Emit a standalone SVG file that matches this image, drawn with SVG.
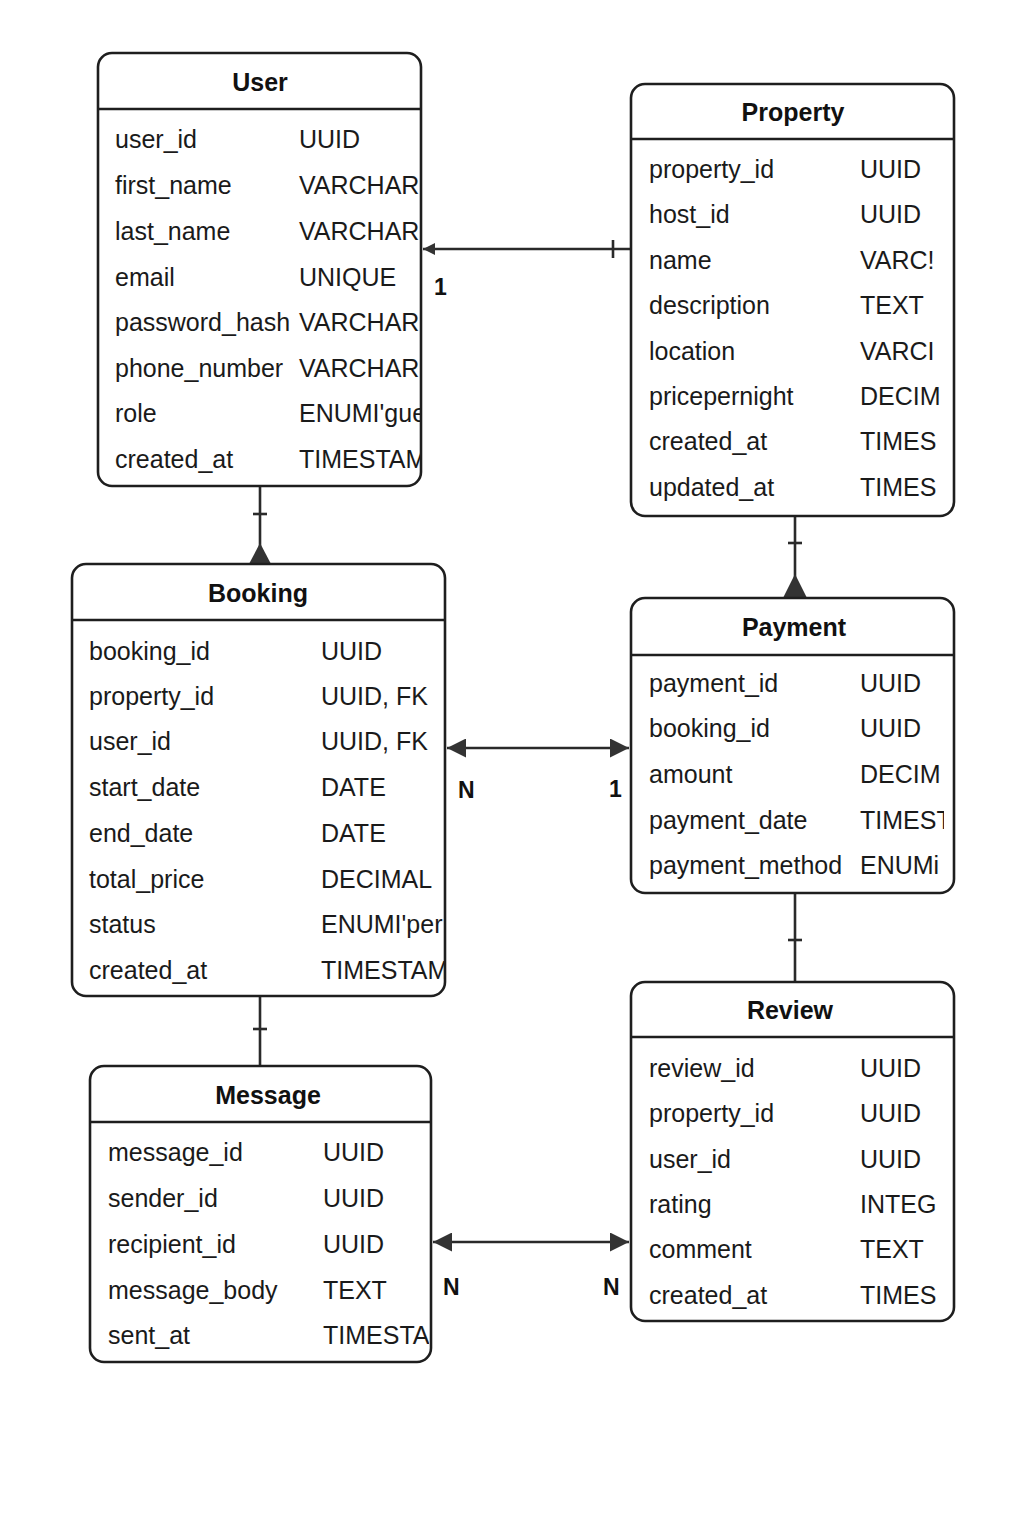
<svg xmlns="http://www.w3.org/2000/svg" width="1024" height="1536" viewBox="0 0 1024 1536">
<style>
.box{fill:#fff;stroke:#1e1e1e;stroke-width:2.6}
.sep{stroke:#1e1e1e;stroke-width:2.4}
.title{font-family:"Liberation Sans",Arial,sans-serif;font-size:25px;font-weight:bold;fill:#111;text-anchor:middle}
.f{font-family:"Liberation Sans",Arial,sans-serif;font-size:25px;fill:#1a1a1a}
.ln{stroke:#2a2a2a;stroke-width:2.6;fill:none}
.tri{fill:#333}
.card{font-family:"Liberation Sans",Arial,sans-serif;font-size:23px;font-weight:bold;fill:#111}
</style>
<defs>
<marker id="arrS" viewBox="0 0 10 10" refX="10" refY="5" markerUnits="userSpaceOnUse" markerWidth="12" markerHeight="18" orient="auto-start-reverse"><path d="M0,0 L10,5 L0,10 z" fill="#333"/></marker>
<marker id="arr" viewBox="0 0 10 10" refX="10" refY="5" markerUnits="userSpaceOnUse" markerWidth="20" markerHeight="19" orient="auto-start-reverse"><path d="M0,0 L10,5 L0,10 z" fill="#333"/></marker>
<clipPath id="cUser"><rect x="98" y="53" width="322" height="433"/></clipPath>
<clipPath id="cBook"><rect x="72" y="564" width="372" height="432"/></clipPath>
<clipPath id="cMsg"><rect x="90" y="1066" width="339" height="296"/></clipPath>
<clipPath id="cPay"><rect x="631" y="598" width="313" height="295"/></clipPath>
</defs>
<rect width="1024" height="1536" fill="#fff"/>

<g id="connectors">
<path class="ln" d="M631,249 H423" marker-end="url(#arrS)"/>
<path class="ln" d="M613,240 V258"/>
<text class="card" x="434" y="295">1</text>

<path class="ln" d="M260,486 V548"/>
<path class="ln" d="M253,514 H267"/>
<polygon class="tri" points="260,543 249,564 271,564"/>

<path class="ln" d="M795,516 V578"/>
<path class="ln" d="M788,543 H802"/>
<polygon class="tri" points="795,574 783,598 807,598"/>

<path class="ln" d="M447,748 H629" marker-start="url(#arr)" marker-end="url(#arr)"/>
<text class="card" x="458" y="798">N</text>
<text class="card" x="609" y="797" font-weight="normal">1</text>

<path class="ln" d="M795,893 V982"/>
<path class="ln" d="M788,940 H802"/>

<path class="ln" d="M260,996 V1066"/>
<path class="ln" d="M253,1029 H267"/>

<path class="ln" d="M433,1242 H629" marker-start="url(#arr)" marker-end="url(#arr)"/>
<text class="card" x="443" y="1295">N</text>
<text class="card" x="603" y="1295">N</text>
</g>

<g id="user">
<rect class="box" x="98" y="53" width="323" height="433" rx="14"/>
<line class="sep" x1="98" y1="109" x2="421" y2="109"/>
<text class="title" x="260" y="91">User</text>
<g class="f" clip-path="url(#cUser)">
<text x="115" y="148">user_id</text><text x="299" y="148">UUID</text>
<text x="115" y="194">first_name</text><text x="299" y="194">VARCHAR</text>
<text x="115" y="240">last_name</text><text x="299" y="240">VARCHAR</text>
<text x="115" y="286">email</text><text x="299" y="286">UNIQUE</text>
<text x="115" y="331">password_hash</text><text x="299" y="331">VARCHAR</text>
<text x="115" y="377">phone_number</text><text x="299" y="377">VARCHAR</text>
<text x="115" y="422">role</text><text x="299" y="422">ENUMI'gue</text>
<text x="115" y="468">created_at</text><text x="299" y="468">TIMESTAM</text>
</g>
</g>

<g id="property">
<rect class="box" x="631" y="84" width="323" height="432" rx="14"/>
<line class="sep" x1="631" y1="139" x2="954" y2="139"/>
<text class="title" x="793" y="121">Property</text>
<g class="f">
<text x="649" y="178">property_id</text><text x="860" y="178">UUID</text>
<text x="649" y="223">host_id</text><text x="860" y="223">UUID</text>
<text x="649" y="269">name</text><text x="860" y="269">VARC!</text>
<text x="649" y="314">description</text><text x="860" y="314">TEXT</text>
<text x="649" y="360">location</text><text x="860" y="360">VARCI</text>
<text x="649" y="405">pricepernight</text><text x="860" y="405">DECIM</text>
<text x="649" y="450">created_at</text><text x="860" y="450">TIMES</text>
<text x="649" y="496">updated_at</text><text x="860" y="496">TIMES</text>
</g>
</g>

<g id="booking">
<rect class="box" x="72" y="564" width="373" height="432" rx="14"/>
<line class="sep" x1="72" y1="620" x2="445" y2="620"/>
<text class="title" x="258" y="602">Booking</text>
<g class="f" clip-path="url(#cBook)">
<text x="89" y="660">booking_id</text><text x="321" y="660">UUID</text>
<text x="89" y="705">property_id</text><text x="321" y="705">UUID, FK</text>
<text x="89" y="750">user_id</text><text x="321" y="750">UUID, FK</text>
<text x="89" y="796">start_date</text><text x="321" y="796">DATE</text>
<text x="89" y="842">end_date</text><text x="321" y="842">DATE</text>
<text x="89" y="888">total_price</text><text x="321" y="888">DECIMAL</text>
<text x="89" y="933">status</text><text x="321" y="933">ENUMI'per</text>
<text x="89" y="979">created_at</text><text x="321" y="979">TIMESTAM</text>
</g>
</g>

<g id="payment">
<rect class="box" x="631" y="598" width="323" height="295" rx="14"/>
<line class="sep" x1="631" y1="655" x2="954" y2="655"/>
<text class="title" x="794" y="636">Payment</text>
<g class="f" clip-path="url(#cPay)">
<text x="649" y="692">payment_id</text><text x="860" y="692">UUID</text>
<text x="649" y="737">booking_id</text><text x="860" y="737">UUID</text>
<text x="649" y="783">amount</text><text x="860" y="783">DECIM</text>
<text x="649" y="829">payment_date</text><text x="860" y="829">TIMEST</text>
<text x="649" y="874">payment_method</text><text x="860" y="874">ENUMi</text>
</g>
</g>

<g id="review">
<rect class="box" x="631" y="982" width="323" height="339" rx="14"/>
<line class="sep" x1="631" y1="1037" x2="954" y2="1037"/>
<text class="title" x="790" y="1019">Review</text>
<g class="f">
<text x="649" y="1077">review_id</text><text x="860" y="1077">UUID</text>
<text x="649" y="1122">property_id</text><text x="860" y="1122">UUID</text>
<text x="649" y="1168">user_id</text><text x="860" y="1168">UUID</text>
<text x="649" y="1213">rating</text><text x="860" y="1213">INTEG</text>
<text x="649" y="1258">comment</text><text x="860" y="1258">TEXT</text>
<text x="649" y="1304">created_at</text><text x="860" y="1304">TIMES</text>
</g>
</g>

<g id="message">
<rect class="box" x="90" y="1066" width="341" height="296" rx="14"/>
<line class="sep" x1="90" y1="1122" x2="431" y2="1122"/>
<text class="title" x="268" y="1104">Message</text>
<g class="f" clip-path="url(#cMsg)">
<text x="108" y="1161">message_id</text><text x="323" y="1161">UUID</text>
<text x="108" y="1207">sender_id</text><text x="323" y="1207">UUID</text>
<text x="108" y="1253">recipient_id</text><text x="323" y="1253">UUID</text>
<text x="108" y="1299">message_body</text><text x="323" y="1299">TEXT</text>
<text x="108" y="1344">sent_at</text><text x="323" y="1344">TIMESTA</text>
</g>
</g>
</svg>
